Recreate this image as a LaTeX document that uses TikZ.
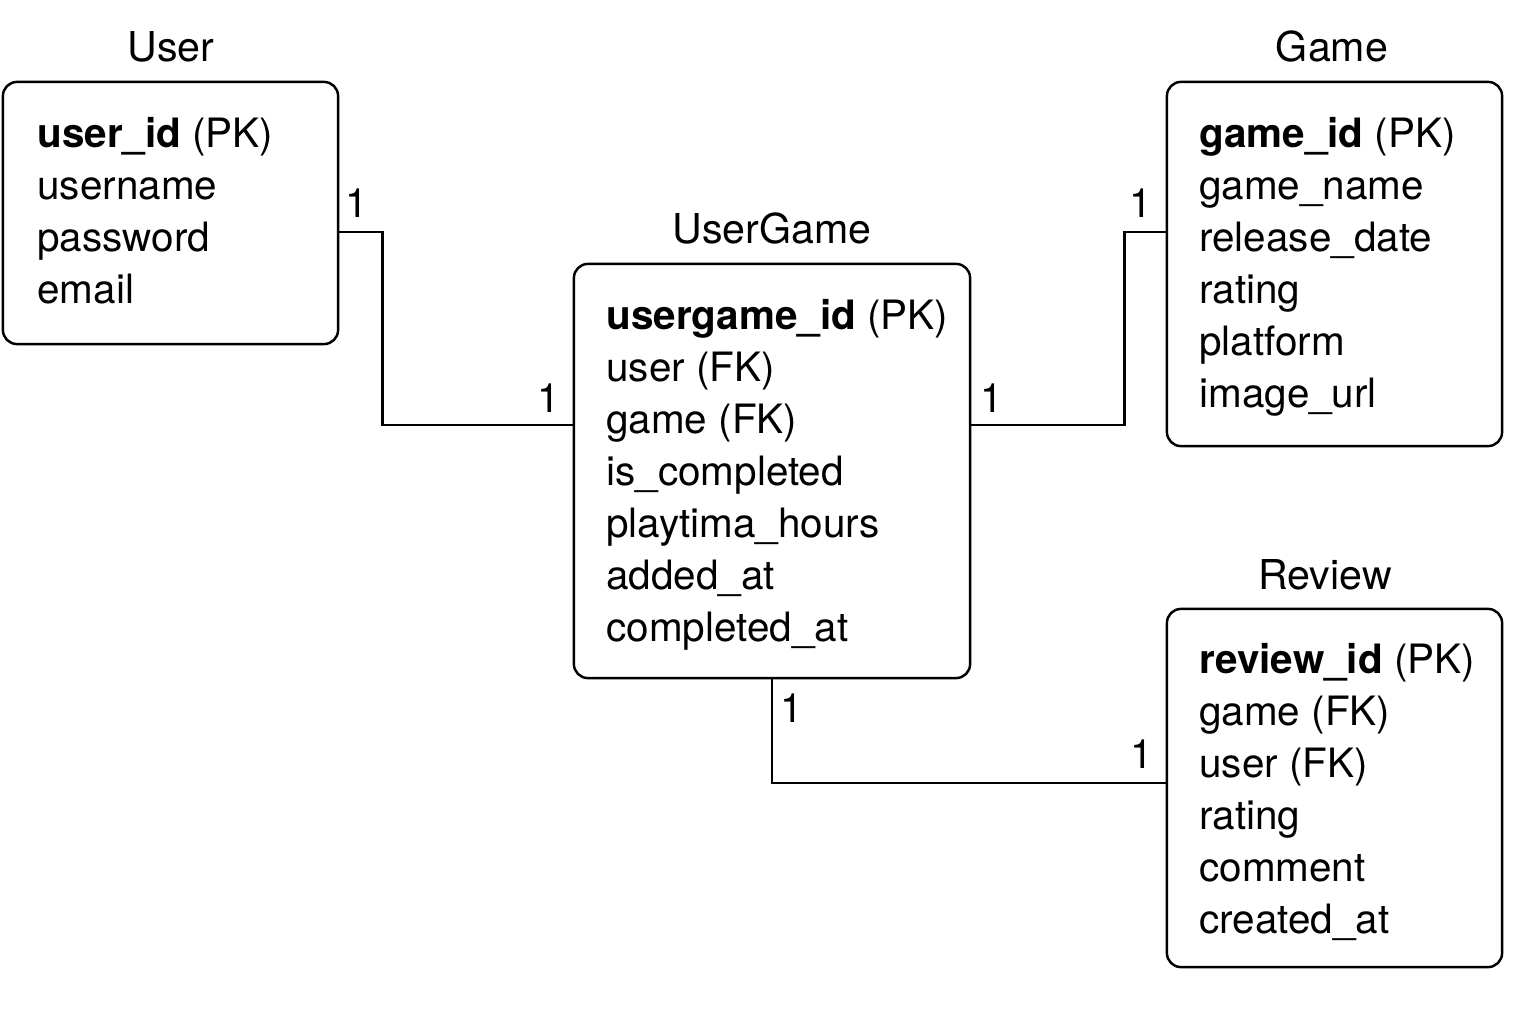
\documentclass[tikz,border=0pt]{standalone}
\usepackage{fontspec}
\setmainfont{TeX Gyre Heros}
\usetikzlibrary{positioning, calc}
\tikzset{
x=0.01cm, y=-0.01cm, % one unit is one pixel of the layout, y runs down
entity/.style={draw, line width=0.7pt, rounded corners=4pt, inner sep=0pt}, % table box
field/.style={anchor=base west, inner sep=0pt, font=\fontsize{11.5}{13}\selectfont}, % one line of a table
title/.style={inner sep=0pt, font=\fontsize{11.7}{13}\selectfont}, % table name above a box
card/.style={inner sep=0pt, font=\fontsize{11.5}{13}\selectfont}, % cardinality mark
link/.style={line width=0.7pt}, % relation line
}

\begin{document}
\begin{tikzpicture}
        \useasboundingbox (0,0) rectangle (1536,1024);
        % boxes
        \node[entity, minimum width=3.35cm, minimum height=2.62cm] (user) at (170.5,213) {};
        \node[entity, minimum width=3.35cm, minimum height=3.64cm] (game) at (1334.5,264) {};
        \node[entity, minimum width=3.96cm, minimum height=4.14cm] (usergame) at (772,471) {};
        \node[entity, minimum width=3.35cm, minimum height=3.58cm] (review) at (1334.5,788) {};
        % names
        \node[title] (usertitle) at (171,47) {User};
        \node[title] (gametitle) at (1332,47) {Game};
        \node[title] (usergametitle) at (772,229) {UserGame};
        \node[title] (reviewtitle) at (1325,575) {Review};
        % fields
        \foreach \t [count=\i] in {\textbf{user\_id} (PK), username, password, email}
          \node[field] (user\i) at ($(user.north west)+(35,67)+(0,52*\i-52)$) {\t};
        \foreach \t [count=\i] in {\textbf{game\_id} (PK), game\_name, release\_date, rating, platform, image\_url}
          \node[field] (game\i) at ($(game.north west)+(33,67)+(0,52*\i-52)$) {\t};
        \foreach \t [count=\i] in {\textbf{usergame\_id} (PK), user (FK), game (FK), is\_completed, playtima\_hours, added\_at, completed\_at}
          \node[field] (usergame\i) at ($(usergame.north west)+(33,67)+(0,52*\i-52)$) {\t};
        \foreach \t [count=\i] in {\textbf{review\_id} (PK), game (FK), user (FK), rating, comment, created\_at}
          \node[field] (review\i) at ($(review.north west)+(33,66)+(0,52*\i-52)$) {\t};
        % relations
        \draw[link] ([yshift=-0.19cm]user.east) -- ++(43,0) |- ([yshift=0.46cm]usergame.west);
        \draw[link] ([yshift=0.46cm]usergame.east) -- ++(153,0) |- ([yshift=0.32cm]game.west);
        \draw[link] (usergame.south) |- ([yshift=0.05cm]review.west);
        % cardinalities
        \node[card] (c1) at (357,203) {1};
        \node[card] (c2) at (549,398) {1};
        \node[card] (c3) at (992,398) {1};
        \node[card] (c4) at (1141,203) {1};
        \node[card] (c5) at (792,708) {1};
        \node[card] (c6) at (1142,754) {1};
    \end{tikzpicture}
\end{document}
